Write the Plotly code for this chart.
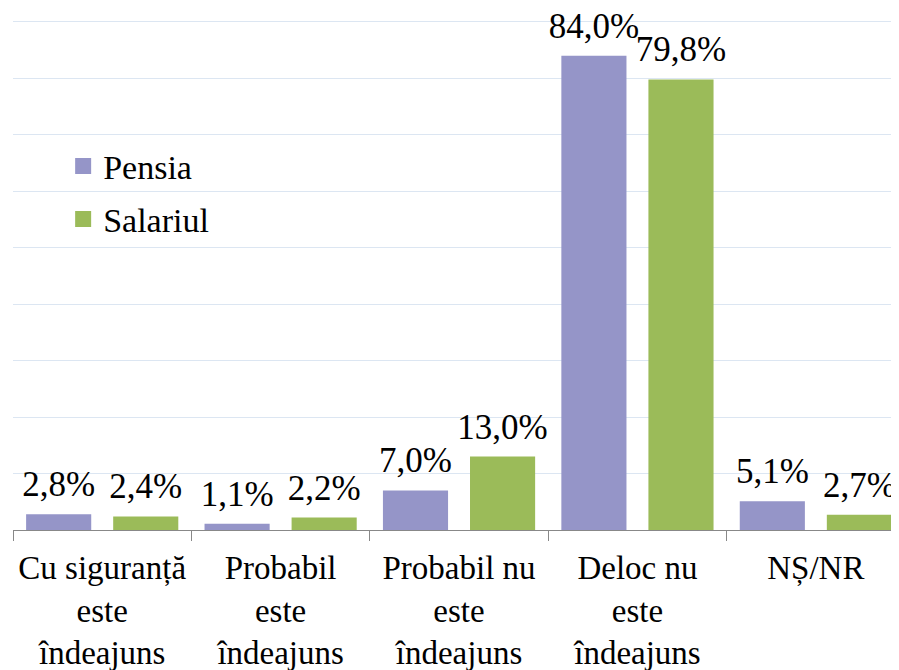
import plotly.graph_objects as go

categories = ["Cu siguranță<br>este<br>îndeajuns", "Probabil<br>este<br>îndeajuns",
              "Probabil nu<br>este<br>îndeajuns", "Deloc nu<br>este<br>îndeajuns", "NȘ/NR"]
pensia = [2.8, 1.1, 7.0, 84.0, 5.1]
salariul = [2.4, 2.2, 13.0, 79.8, 2.7]
series_names = ["Pensia", "Salariul"]
colors = ["#9595C8", "#9BBB59"]

FONT = "'Liberation Serif', 'Times New Roman', Tinos, 'DejaVu Serif', serif"
LABEL_GAP = 1.25  # visual gap (axis units) between bar top and its value label

def fmt(v):
    return f"{v:.1f}".replace(".", ",") + "%"

fig = go.Figure()
for vals, name, col, off in [(pensia, series_names[0], colors[0], -0.4265),
                             (salariul, series_names[1], colors[1], 0.0615)]:
    fig.add_trace(go.Bar(
        x=categories, y=vals, name=name, marker=dict(color=col, line=dict(width=0)),
        width=0.365, offset=off, showlegend=False, hoverinfo="y",
    ))
    # transparent spacer bar on top of each bar, carrying the value label
    fig.add_trace(go.Bar(
        x=categories, y=[LABEL_GAP] * len(vals), base=vals, name=name,
        marker=dict(color="rgba(0,0,0,0)", line=dict(width=0)),
        width=0.365, offset=off, text=[fmt(v) for v in vals],
        textposition="outside", constraintext="none", cliponaxis=False,
        textfont=dict(family=FONT, size=35, color="black"), showlegend=False,
        hoverinfo="skip",
    ))
    fig.add_trace(go.Scatter(
        x=[None], y=[None], mode="markers", name=name, legendgroup=name,
        marker=dict(symbol="square", size=16, color=col, line=dict(width=0)),
    ))

fig.update_layout(
    width=891, height=662,
    margin=dict(l=5, r=0, t=11, b=140, autoexpand=False),
    plot_bgcolor="white", paper_bgcolor="white",
    barmode="overlay",
    font=dict(family=FONT, size=34, color="black"),
    legend=dict(x=0.0566, y=0.7685, xanchor="left", yanchor="top",
                bgcolor="rgba(0,0,0,0)",
                font=dict(family=FONT, size=34), traceorder="grouped", tracegroupgap=6),
    xaxis=dict(range=[-0.5, 4.466], showline=True, linecolor="#888888", linewidth=1,
               ticks="outside", tickson="boundaries", ticklen=10, tickcolor="#888888",
               showgrid=False, tickfont=dict(family=FONT, size=33, color="black"),
               ticklabelstandoff=8, tickangle=0, automargin=False),
    yaxis=dict(range=[0, 90.5], tick0=0, dtick=10, showgrid=True, gridcolor="#DCE6F2",
               showticklabels=False, zeroline=False, ticks="", automargin=False),
)

fig.write_html("out.html")
